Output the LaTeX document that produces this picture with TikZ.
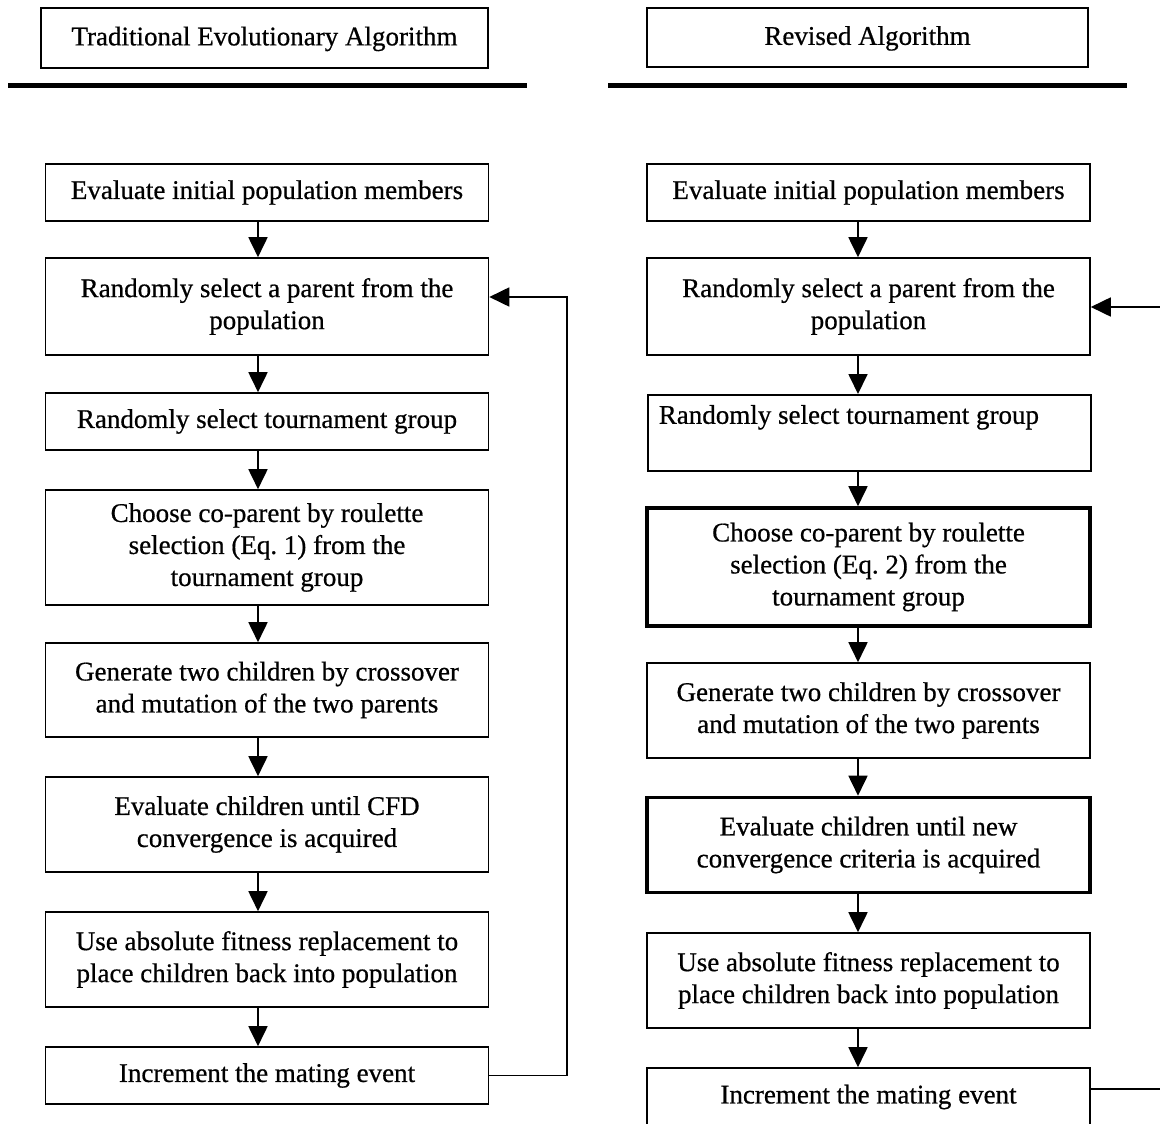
\documentclass[tikz,border=0pt]{standalone}
\usepackage{fontspec}
\newfontfamily\boxfont[FakeBold=0.6]{Liberation Serif}
\usetikzlibrary{arrows.meta}
\begin{document}
\begin{tikzpicture}[x=1pt,y=-1pt,
  box/.style={draw, line width=1.6pt, minimum width=443pt, align=center, inner sep=0pt,
              font={\boxfont\fontsize{27}{32}\selectfont}},
  thickbox/.style={box, line width=3.6pt},
  arr/.style={line width=1.8pt, -{Triangle[length=20pt,width=19pt]}},
  hrule/.style={line width=5pt}]
\useasboundingbox (0,0) rectangle (1160,1124);
\clip (0,0) rectangle (1160,1124);
\fill[white] (0,0) rectangle (1160,1124);

% ---------- left column ----------
\node[box, minimum width=447pt, minimum height=60pt, text depth=4pt] (lh) at (264.5,38) {Traditional Evolutionary Algorithm};
\draw[hrule] (8,86) -- (527,86);

\node[box, minimum height=57pt]  (l1) at (267,192.5) {Evaluate initial population members};
\node[box, minimum height=97pt]  (l2) at (267,306.5) {Randomly select a parent from the\\population};
\node[box, minimum height=57pt]  (l3) at (267,421.5) {Randomly select tournament group};
\node[box, minimum height=115pt] (l4) at (267,547.5) {Choose co-parent by roulette\\selection (Eq.~1) from the\\tournament group};
\node[box, minimum height=94pt]  (l5) at (267,690) {Generate two children by crossover\\and mutation of the two parents};
\node[box, minimum height=95pt]  (l6) at (267,824.5) {Evaluate children until CFD\\convergence is acquired};
\node[box, minimum height=95pt]  (l7) at (267,959.5) {Use absolute fitness replacement to\\place children back into population};
\node[box, minimum height=57pt]  (l8) at (267,1075.5) {Increment the mating event};

\coordinate (lx) at (258,0);
\foreach \a/\b in {l1/l2,l2/l3,l3/l4,l4/l5,l5/l6,l6/l7,l7/l8}
  \draw[arr] (\a.south -| lx) -- (\b.north -| lx);

\coordinate (lfb) at (567,297);
\draw[arr] (l8.east) -| (lfb) -- (lfb -| l2.east);

% ---------- right column ----------
\node[box, minimum width=441pt, minimum height=59pt, text depth=4pt] (rh) at (867.5,37.5) {Revised Algorithm};
\draw[hrule] (608,86) -- (1127,86);

\node[box, minimum height=57pt]  (r1) at (868.5,192.5) {Evaluate initial population members};
\node[box, minimum height=97pt]  (r2) at (868.5,306.5) {Randomly select a parent from the\\population};
\node[box, anchor=north west, minimum height=76pt, align=left,
      inner xsep=11pt, inner ysep=0pt, text height=29pt, text depth=47pt]
      (r3) at (647,394) {\hbox to 421pt{Randomly select tournament group\hfil}};
\node[thickbox, minimum height=118pt] (r4) at (868.5,567) {Choose co-parent by roulette\\selection (Eq.~2) from the\\tournament group};
\node[box, minimum height=95pt]  (r5) at (868.5,710.5) {Generate two children by crossover\\and mutation of the two parents};
\node[thickbox, minimum height=95pt] (r6) at (868.5,845) {Evaluate children until new\\convergence criteria is acquired};
\node[box, minimum height=95pt]  (r7) at (868.5,980.5) {Use absolute fitness replacement to\\place children back into population};
\node[box, minimum height=58pt]  (r8) at (868.5,1097) {Increment the mating event};

\coordinate (rx) at (858,0);
\foreach \a/\b in {r1/r2,r2/r3,r3/r4,r4/r5,r5/r6,r6/r7,r7/r8}
  \draw[arr] (\a.south -| rx) -- (\b.north -| rx);

\coordinate (rfa) at (1178,1089);
\coordinate (rfb) at (1178,307);
\draw[arr] (r8.east |- rfa) -- (rfa) -- (rfb) -- (rfb -| r2.east);
\end{tikzpicture}
\end{document}
